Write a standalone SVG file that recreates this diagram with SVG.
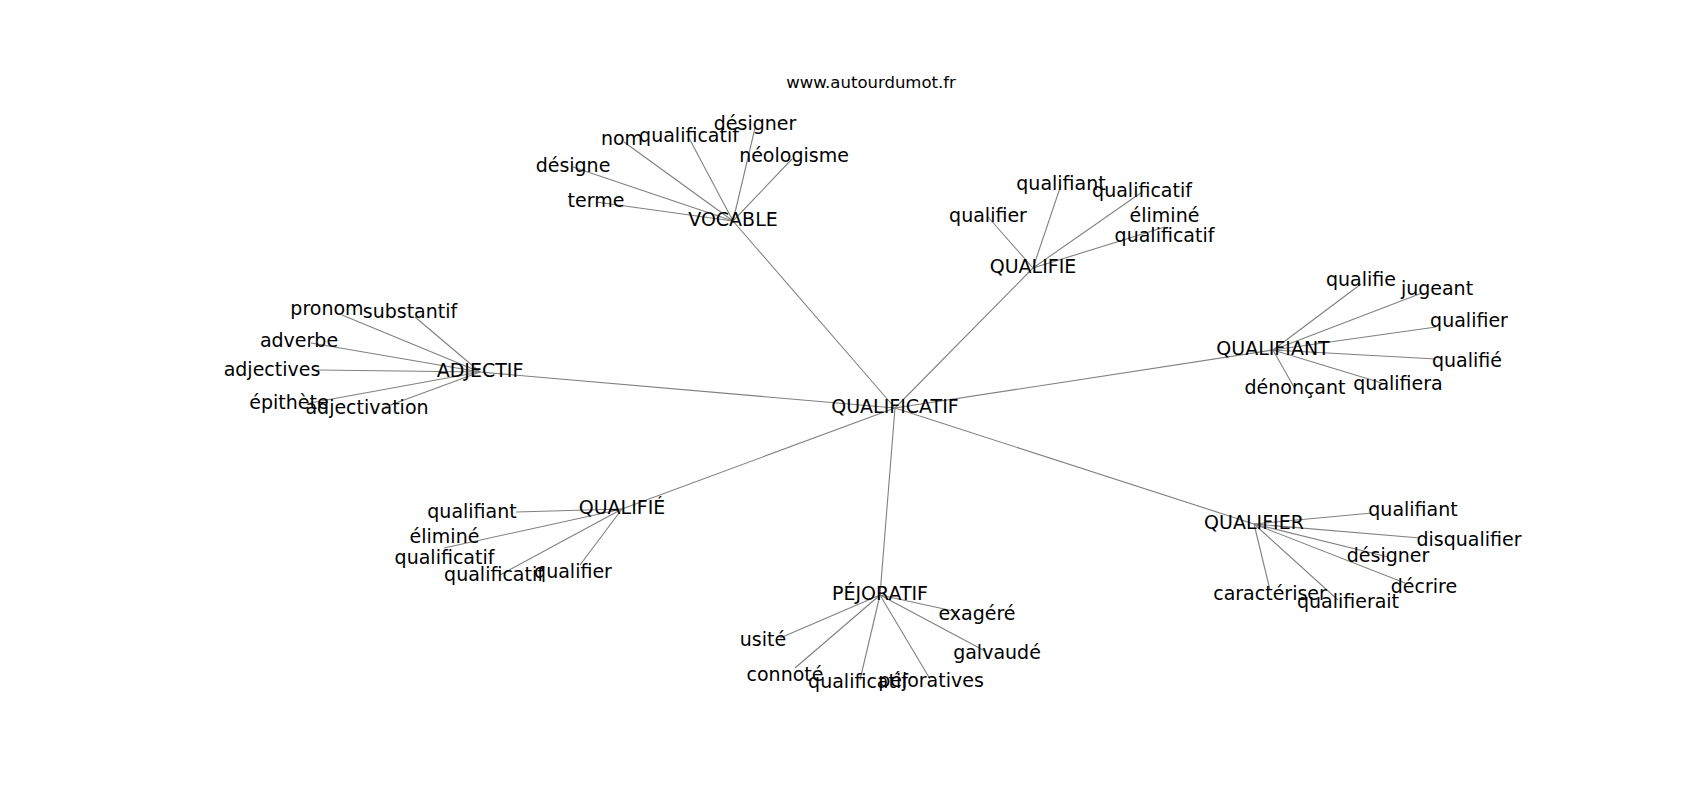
<svg xmlns="http://www.w3.org/2000/svg" width="1700" height="800" viewBox="0 0 1700 800">
<style>
text{font-family:"DejaVu Sans","Liberation Sans",sans-serif;font-size:19px;fill:#000;text-anchor:middle}
.title{font-size:16.5px}
#edges line{stroke:#808080;stroke-width:1.1}
</style>
<rect width="1700" height="800" fill="#fff"/>
<text class="title" x="871" y="88">www.autourdumot.fr</text>
<g id="edges">
<line x1="895" y1="408" x2="733" y2="221"/>
<line x1="895" y1="408" x2="1033" y2="268"/>
<line x1="895" y1="408" x2="1273" y2="350"/>
<line x1="895" y1="408" x2="480" y2="372"/>
<line x1="895" y1="408" x2="622" y2="509"/>
<line x1="895" y1="408" x2="880" y2="595"/>
<line x1="895" y1="408" x2="1254" y2="524"/>
<line x1="733" y1="221" x2="596" y2="202"/>
<line x1="733" y1="221" x2="573" y2="167"/>
<line x1="733" y1="221" x2="624" y2="142"/>
<line x1="733" y1="221" x2="689" y2="138"/>
<line x1="733" y1="221" x2="755" y2="128"/>
<line x1="733" y1="221" x2="792" y2="159"/>
<line x1="1033" y1="268" x2="988" y2="217"/>
<line x1="1033" y1="268" x2="1061" y2="185"/>
<line x1="1033" y1="268" x2="1142" y2="192"/>
<line x1="1033" y1="268" x2="1165" y2="227"/>
<line x1="1273" y1="350" x2="1361" y2="284"/>
<line x1="1273" y1="350" x2="1422" y2="293"/>
<line x1="1273" y1="350" x2="1436" y2="327"/>
<line x1="1273" y1="350" x2="1436" y2="359"/>
<line x1="1273" y1="350" x2="1385" y2="384"/>
<line x1="1273" y1="350" x2="1295" y2="389"/>
<line x1="480" y1="372" x2="342" y2="315"/>
<line x1="480" y1="372" x2="415" y2="317"/>
<line x1="480" y1="372" x2="311" y2="343"/>
<line x1="480" y1="372" x2="318" y2="370"/>
<line x1="480" y1="372" x2="310" y2="403"/>
<line x1="480" y1="372" x2="385" y2="407"/>
<line x1="622" y1="509" x2="516" y2="512"/>
<line x1="622" y1="509" x2="444" y2="548"/>
<line x1="622" y1="509" x2="500" y2="575"/>
<line x1="622" y1="509" x2="580" y2="565"/>
<line x1="880" y1="595" x2="780" y2="638"/>
<line x1="880" y1="595" x2="795" y2="668"/>
<line x1="880" y1="595" x2="860" y2="680"/>
<line x1="880" y1="595" x2="930" y2="679"/>
<line x1="880" y1="595" x2="958" y2="612"/>
<line x1="880" y1="595" x2="985" y2="651"/>
<line x1="1254" y1="524" x2="1372" y2="513"/>
<line x1="1254" y1="524" x2="1420" y2="538"/>
<line x1="1254" y1="524" x2="1388" y2="557"/>
<line x1="1254" y1="524" x2="1405" y2="583"/>
<line x1="1254" y1="524" x2="1270" y2="590"/>
<line x1="1254" y1="524" x2="1338" y2="600"/>
</g>
<g id="n-qualificatif-center"><text x="895" y="413">QUALIFICATIF</text></g>
<g id="n-vocable"><text x="733" y="226">VOCABLE</text></g>
<g id="n-v-terme"><text x="596" y="207">terme</text></g>
<g id="n-v-designe"><text x="573" y="172">désigne</text></g>
<g id="n-v-nom"><text x="622" y="145">nom</text></g>
<g id="n-v-qualificatif"><text x="689" y="142">qualificatif</text></g>
<g id="n-v-designer"><text x="755" y="130">désigner</text></g>
<g id="n-v-neologisme"><text x="794" y="162">néologisme</text></g>
<g id="n-qualifie"><text x="1033" y="273">QUALIFIE</text></g>
<g id="n-q1-qualifier"><text x="988" y="222">qualifier</text></g>
<g id="n-q1-qualifiant"><text x="1061" y="190">qualifiant</text></g>
<g id="n-q1-qualificatif"><text x="1142" y="197">qualificatif</text></g>
<g id="n-q1-elimine"><text x="1164.5" y="222"><tspan x="1164.5">éliminé</tspan><tspan x="1164.5" dy="20">qualificatif</tspan></text></g>
<g id="n-qualifiant"><text x="1273" y="355">QUALIFIANT</text></g>
<g id="n-q2-qualifie"><text x="1361" y="286">qualifie</text></g>
<g id="n-q2-jugeant"><text x="1437" y="295">jugeant</text></g>
<g id="n-q2-qualifier"><text x="1469" y="327">qualifier</text></g>
<g id="n-q2-qualifie2"><text x="1467" y="367">qualifié</text></g>
<g id="n-q2-qualifiera"><text x="1398" y="390">qualifiera</text></g>
<g id="n-q2-denoncant"><text x="1295" y="394">dénonçant</text></g>
<g id="n-adjectif"><text x="480" y="377">ADJECTIF</text></g>
<g id="n-a-pronom"><text x="327" y="315">pronom</text></g>
<g id="n-a-substantif"><text x="410" y="318">substantif</text></g>
<g id="n-a-adverbe"><text x="299" y="347">adverbe</text></g>
<g id="n-a-adjectives"><text x="272" y="376">adjectives</text></g>
<g id="n-a-epithete"><text x="289" y="409">épithète</text></g>
<g id="n-a-adjectivation"><text x="367" y="414">adjectivation</text></g>
<g id="n-qualifie-acc"><text x="622" y="514">QUALIFIÉ</text></g>
<g id="n-q3-qualifiant"><text x="472" y="518">qualifiant</text></g>
<g id="n-q3-elimine"><text x="444.5" y="543"><tspan x="444.5">éliminé</tspan><tspan x="444.5" dy="21">qualificatif</tspan></text></g>
<g id="n-q3-qualificatif"><text x="494" y="581">qualificatif</text></g>
<g id="n-q3-qualifier"><text x="573" y="578">qualifier</text></g>
<g id="n-pejoratif"><text x="880" y="600">PÉJORATIF</text></g>
<g id="n-p-exagere"><text x="977" y="620">exagéré</text></g>
<g id="n-p-usite"><text x="763" y="646">usité</text></g>
<g id="n-p-galvaude"><text x="997" y="659">galvaudé</text></g>
<g id="n-p-connote"><text x="785" y="681">connoté</text></g>
<g id="n-p-qualificatif"><text x="858" y="688">qualificatif</text></g>
<g id="n-p-pejoratives"><text x="931" y="687">péjoratives</text></g>
<g id="n-qualifier"><text x="1254" y="529">QUALIFIER</text></g>
<g id="n-q4-qualifiant"><text x="1413" y="516">qualifiant</text></g>
<g id="n-q4-disqualifier"><text x="1469" y="546">disqualifier</text></g>
<g id="n-q4-designer"><text x="1388" y="562">désigner</text></g>
<g id="n-q4-decrire"><text x="1424" y="593">décrire</text></g>
<g id="n-q4-caracteriser"><text x="1270" y="600">caractériser</text></g>
<g id="n-q4-qualifierait"><text x="1348" y="608">qualifierait</text></g>
</svg>
